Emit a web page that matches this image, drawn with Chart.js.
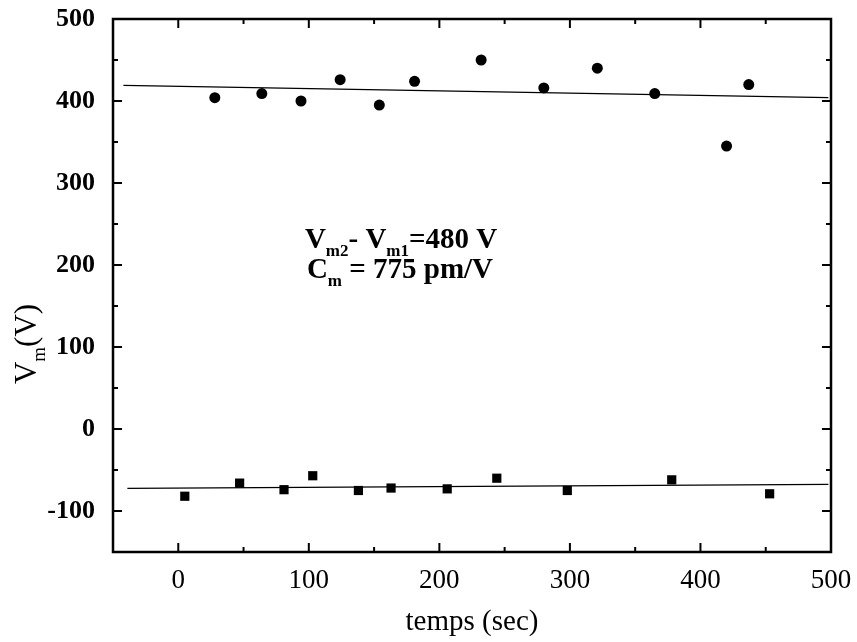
<!DOCTYPE html>
<html>
<head>
<meta charset="utf-8">
<script src="https://cdn.jsdelivr.net/npm/chart.js@4/dist/chart.umd.min.js"></script>
<style>
  html, body { margin: 0; padding: 0; background: #fff; }
  #wrap { width: 857px; height: 642px; }
</style>
</head>
<body>
<div id="wrap"><canvas id="vmChart" width="857" height="642"></canvas></div>
<script>
// upper branch (circles)
const upperTime = [28, 64, 94, 124, 154, 181, 232, 280, 321, 365, 420, 437];
const upperVm   = [404, 409, 400, 426, 395, 424, 450, 416, 440, 409, 345, 420];
// lower branch (squares)
const lowerTime = [5, 47, 81, 103, 138, 163, 206, 244, 298, 378, 453];
const lowerVm   = [-82, -66, -74, -57, -75, -72, -73, -60, -75, -62, -79];
// fitted lines
const upperFitTime = [-42, 498];
const upperFitVm   = [419, 404];
const lowerFitTime = [-39, 498];
const lowerFitVm   = [-72.5, -67.5];

const xMin = -50, xMax = 500, xStep = 50;
const yMin = -150, yMax = 500, yStep = 50;

const serif = "'Liberation Serif', 'DejaVu Serif', serif";

const pts = (xs, ys) => xs.map((x, i) => ({ x: x, y: ys[i] }));

// draws a run of [text, isSub] pieces starting at x,y (baseline)
function drawRich(c, parts, x, y, size, weight) {
  parts.forEach(([txt, sub]) => {
    const s = sub ? Math.round(size * 0.6) : size;
    c.font = weight + ' ' + s + 'px ' + serif;
    c.fillText(txt, x, sub ? y + size * 0.3 : y);
    x += c.measureText(txt).width;
  });
  return x;
}

function richWidth(c, parts, size, weight) {
  let w = 0;
  parts.forEach(([txt, sub]) => {
    const s = sub ? Math.round(size * 0.6) : size;
    c.font = weight + ' ' + s + 'px ' + serif;
    w += c.measureText(txt).width;
  });
  return w;
}

const framePlugin = {
  id: 'frame',
  afterDraw(chart) {
    const c = chart.ctx, a = chart.chartArea;
    const xs = chart.scales.x, ys = chart.scales.y;
    c.save();
    c.strokeStyle = '#000';
    c.lineWidth = 2.5;
    c.strokeRect(a.left, a.top, a.right - a.left, a.bottom - a.top);

    // inward ticks on all four sides
    c.lineWidth = 2;
    c.beginPath();
    xs.ticks.forEach(t => {
      if (t.value <= xMin || t.value >= xMax) return;
      const len = t.value % 100 === 0 ? 9 : 5;
      const px = xs.getPixelForValue(t.value);
      c.moveTo(px, a.bottom); c.lineTo(px, a.bottom - len);
      c.moveTo(px, a.top); c.lineTo(px, a.top + len);
    });
    ys.ticks.forEach(t => {
      if (t.value <= yMin || t.value >= yMax) return;
      const len = t.value % 100 === 0 ? 9 : 5;
      const py = ys.getPixelForValue(t.value);
      c.moveTo(a.left, py); c.lineTo(a.left + len, py);
      c.moveTo(a.right, py); c.lineTo(a.right - len, py);
    });
    c.stroke();

    // y axis title V_m(V)
    c.fillStyle = '#000';
    c.textBaseline = 'alphabetic';
    c.textAlign = 'left';
    const yTitle = [['V', false], ['m', true], ['(V)', false]];
    const w = richWidth(c, yTitle, 31, 'normal');
    c.translate(36, 344);
    c.rotate(-Math.PI / 2);
    drawRich(c, yTitle, -w / 2, 0, 31, 'normal');
    c.restore();

    // annotation
    c.save();
    c.fillStyle = '#000';
    c.textAlign = 'left';
    c.textBaseline = 'alphabetic';
    const ax = xs.getPixelForValue(97);
    const ay = ys.getPixelForValue(221);
    drawRich(c, [['V', false], ['m2', true], ['- V', false], ['m1', true], ['=480 V', false]], ax, ay, 29, 'bold');
    drawRich(c, [['C', false], ['m', true], [' = 775 pm/V', false]], ax + 2, ay + 30, 29, 'bold');
    c.restore();
  }
};

new Chart(document.getElementById('vmChart'), {
  type: 'scatter',
  data: {
    datasets: [
      {
        label: 'upper',
        data: pts(upperTime, upperVm),
        pointStyle: 'circle',
        pointRadius: 5.5,
        backgroundColor: '#000',
        borderColor: '#000',
        borderWidth: 0
      },
      {
        label: 'lower',
        data: pts(lowerTime, lowerVm),
        pointStyle: 'rect',
        pointRadius: 6.5,
        backgroundColor: '#000',
        borderColor: '#000',
        borderWidth: 0
      },
      {
        label: 'upper fit',
        type: 'line',
        data: pts(upperFitTime, upperFitVm),
        showLine: true,
        pointRadius: 0,
        borderColor: '#000',
        borderWidth: 1.3,
        fill: false
      },
      {
        label: 'lower fit',
        type: 'line',
        data: pts(lowerFitTime, lowerFitVm),
        showLine: true,
        pointRadius: 0,
        borderColor: '#000',
        borderWidth: 1.3,
        fill: false
      }
    ]
  },
  options: {
    responsive: false,
    animation: false,
    layout: { padding: { top: 19, right: 26, left: 0, bottom: 0 } },
    plugins: {
      legend: { display: false },
      tooltip: { enabled: false }
    },
    scales: {
      x: {
        type: 'linear',
        min: xMin,
        max: xMax,
        grid: { display: false },
        border: { display: true, color: '#000', width: 2 },
        afterFit: s => { s.height = 90; },
        ticks: {
          stepSize: xStep,
          autoSkip: false,
          maxRotation: 0,
          padding: 5,
          color: '#000',
          font: { family: serif, size: 27 },
          callback: v => (v % 100 === 0 && v >= 0) ? String(v) : ''
        },
        title: {
          display: true,
          text: 'temps (sec)',
          color: '#000',
          font: { family: serif, size: 29 },
          padding: { top: 0, bottom: 2 }
        }
      },
      y: {
        type: 'linear',
        min: yMin,
        max: yMax,
        grid: { display: false },
        border: { display: true, color: '#000', width: 2 },
        afterFit: s => { s.width = 113; s.paddingTop = 0; s.paddingBottom = 0; },
        ticks: {
          stepSize: yStep,
          autoSkip: false,
          padding: 10,
          color: '#000',
          font: { family: serif, size: 26, weight: 'bold' },
          callback: v => (v % 100 === 0) ? String(v) : ''
        }
      }
    }
  },
  plugins: [framePlugin]
});
</script>
</body>
</html>
